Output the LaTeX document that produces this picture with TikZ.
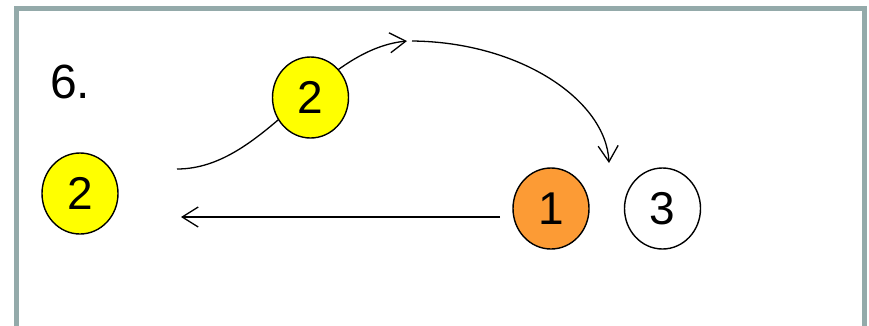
\documentclass[tikz,border=0pt]{standalone}
\usepackage{fontspec}
\setmainfont{Liberation Sans}
\usetikzlibrary{arrows.meta,shapes.geometric}
\definecolor{framegray}{HTML}{94AAAA}
\definecolor{ballyellow}{HTML}{FFFF00}
\definecolor{ballorange}{HTML}{FC9B35}
\begin{document}
\begin{tikzpicture}[x=1pt,y=-1pt,
  ball/.style={ellipse,draw=black,line width=1.4pt,minimum width=76pt,minimum height=81pt,inner sep=0pt,font=\fontsize{46}{46}\selectfont},
  conn/.style={draw=black,line width=1.3pt,-{Straight Barb[length=16pt,width=20pt,line width=1.3pt]}}]
\useasboundingbox (0,0) rectangle (869,325);
\draw[framegray,line width=5pt] (16.5,340) -- (16.5,8.5) -- (864.5,8.5) -- (864.5,340);
\node[anchor=base west,inner sep=0pt,font=\fontsize{48}{48}\selectfont] (label) at (50,98) {6.};
% connector end points
\coordinate (s1) at (177,169);
\coordinate (e1) at (407,41);
\coordinate (s2) at (412,41);
\coordinate (e2) at (609,163);
\coordinate (s3) at (500,217);
\coordinate (e3) at (181,217);
\draw[conn] (s1) .. controls (265,169) and (318,50) .. (e1);
\draw[conn] (s2) .. controls (520,42) and (606,100) .. (e2);
\draw[conn] (s3) -- (e3);
\node[ball,fill=ballyellow] (left2) at (80,193.5) {2};
\node[ball,fill=ballyellow] (mid2) at (310.5,97.5) {2};
\node[ball,fill=ballorange] (one) at (551,208.5) {1};
\node[ball,fill=white] (three) at (662.5,208.5) {3};
\end{tikzpicture}
\end{document}
